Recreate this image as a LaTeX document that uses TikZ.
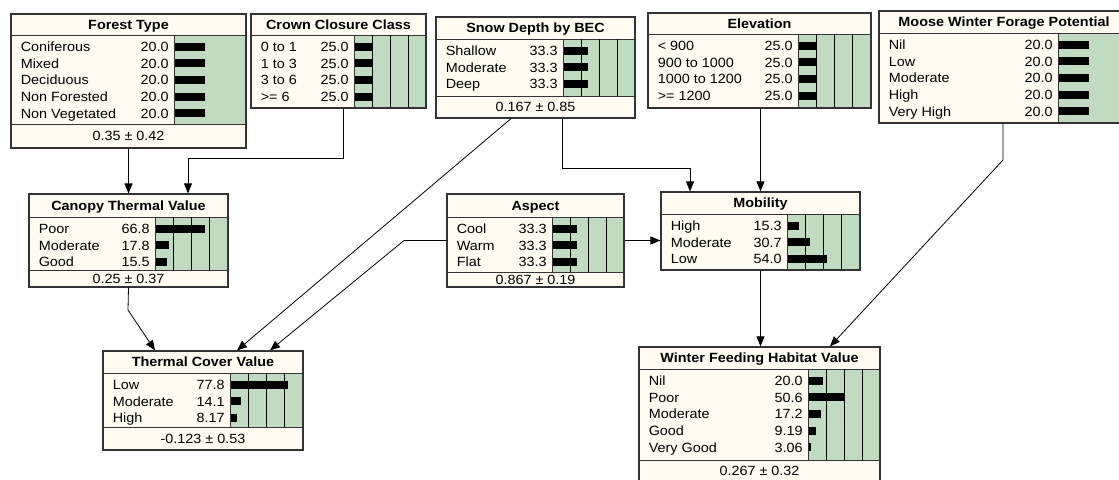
\documentclass[tikz,border=0pt]{standalone}
\usepackage{fontspec}
\setmainfont{Liberation Sans}[FakeStretch=1.08]
\usetikzlibrary{arrows.meta,fit,calc}
\definecolor{cream}{HTML}{FFFBF0}
\definecolor{pgreen}{HTML}{C0DCC0}
\definecolor{frameclr}{HTML}{333333}
\tikzset{
  bnframe/.style={draw=frameclr, line width=0.9pt, inner sep=0pt},
  bnsep/.style={draw=frameclr, line width=0.7pt},
  bntitle/.style={font=\fontsize{10}{12}\selectfont\bfseries, inner sep=0pt, anchor=base},
  bntext/.style={font=\fontsize{10}{12}\selectfont, inner sep=0pt},
  gridln/.style={draw=black, line width=0.5pt},
  barfill/.style={fill=black},
  arr/.style={draw=black, line width=0.6pt, -{Triangle[length=7.5pt,width=6pt]}},
}
% x1 y1 x2 y2 yt ys px title
\newcommand{\bnbase}[8]{%
  \fill[cream] (#1,#2) rectangle (#3,#4);
  \fill[pgreen] (#7,#5) rectangle (#3,#6);
  \draw[bnsep] (#1,#5) -- (#3,#5);
  \draw[bnsep] (#1,#6) -- (#3,#6);
  \draw[bnsep] (#7,#5) -- (#7,#6);
  \node[bntitle] at ({(#1+#3)/2},{(#2+#5)/2+4.8}) {#8};
}
% px x2 yt ys
\newcommand{\bngrid}[4]{%
  \foreach \k in {1,2,3}{
    \draw[gridln] ({#1+\k*(#2-#1)/4},#3) -- ({#1+\k*(#2-#1)/4},#4);
  }
}
% x1 yt px scale list
\newcommand{\bnstates}[5]{%
  \foreach \lab/\val/\pct [count=\i] in {#5}{
    \pgfmathsetmacro{\yc}{#2+11.5+16.7*(\i-1)}
    \node[bntext, anchor=base west] at ({#1+9.5},{\yc+4.8}) {\lab};
    \node[bntext, anchor=base east] at ({#3-5},{\yc+4.8}) {\val};
    \fill[barfill] ({#3+1},{\yc-4}) rectangle ({#3+1+#4*\pct},{\yc+4});
  }
}
% x1 x2 ys y2 text
\newcommand{\bnfoot}[5]{%
  \node[bntext, anchor=base] at ({(#1+#2)/2},{(#3+#4)/2+4.8}) {#5};
}
% name x1 y1 x2 y2
\newcommand{\bnframe}[5]{%
  \node[bnframe, fit={(#2,#3)(#4,#5)}] (#1) {};
}
\begin{document}
\begin{tikzpicture}[x=0.75pt,y=-0.75pt]
\useasboundingbox[fill=white] (0,0) rectangle (1119,479);

% Forest Type
\bnbase{11}{14}{246}{148}{35}{124}{174}{Forest Type}
\bnstates{11}{35}{174}{1.5}{Coniferous/20.0/20, Mixed/20.0/20, Deciduous/20.0/20, Non Forested/20.0/20, Non Vegetated/20.0/20}
\bnfoot{11}{246}{124}{148}{0.35 ± 0.42}
\bnframe{ft}{11}{14}{246}{148}

% Crown Closure Class
\bnbase{251}{14}{426}{108}{35}{108}{354}{Crown Closure Class}
\bngrid{354}{426}{35}{108}
\bnstates{251}{35}{354}{0.72}{0 to 1/25.0/25, 1 to 3/25.0/25, 3 to 6/25.0/25, >= 6/25.0/25}
\bnframe{ccc}{251}{14}{426}{108}

% Snow Depth by BEC
\bnbase{436}{17}{635}{118}{39}{96}{563}{Snow Depth by BEC}
\bngrid{563}{635}{39}{96}
\bnstates{436}{39}{563}{0.72}{Shallow/33.3/33.3, Moderate/33.3/33.3, Deep/33.3/33.3}
\bnfoot{436}{635}{96}{118}{0.167 ± 0.85}
\bnframe{sd}{436}{17}{635}{118}

% Elevation
\bnbase{648}{13}{871}{108}{34}{108}{798}{Elevation}
\bngrid{798}{871}{34}{108}
\bnstates{648}{34}{798}{0.73}{< 900/25.0/25, 900 to 1000/25.0/25, 1000 to 1200/25.0/25, >= 1200/25.0/25}
\bnframe{elv}{648}{13}{871}{108}

% Moose Winter Forage Potential
\bnbase{879}{11}{1129}{123}{33}{123}{1058}{Moose Winter Forage Potential}
\bnstates{879}{33}{1058}{1.5}{Nil/20.0/20, Low/20.0/20, Moderate/20.0/20, High/20.0/20, Very High/20.0/20}
\bnframe{mw}{879}{11}{1129}{123}

% Canopy Thermal Value
\bnbase{29}{194}{228}{287}{217}{270}{155}{Canopy Thermal Value}
\bngrid{155}{228}{217}{270}
\bnstates{29}{217}{155}{0.73}{Poor/66.8/66.8, Moderate/17.8/17.8, Good/15.5/15.5}
\bnfoot{29}{228}{270}{287}{0.25 ± 0.37}
\bnframe{ctv}{29}{194}{228}{287}

% Aspect
\bnbase{447}{194}{624}{287}{217}{272}{552}{Aspect}
\bngrid{552}{624}{217}{272}
\bnstates{447}{217}{552}{0.72}{Cool/33.3/33.3, Warm/33.3/33.3, Flat/33.3/33.3}
\bnfoot{447}{624}{272}{287}{0.867 ± 0.19}
\bnframe{asp}{447}{194}{624}{287}

% Mobility
\bnbase{661}{192}{860}{270}{214}{270}{787}{Mobility}
\bngrid{787}{860}{214}{270}
\bnstates{661}{214}{787}{0.73}{High/15.3/15.3, Moderate/30.7/30.7, Low/54.0/54.0}
\bnframe{mob}{661}{192}{860}{270}

% Thermal Cover Value
\bnbase{103}{351}{303}{450}{373}{427}{230}{Thermal Cover Value}
\bngrid{230}{303}{373}{427}
\bnstates{103}{373}{230}{0.73}{Low/77.8/77.8, Moderate/14.1/14.1, High/8.17/8.17}
\bnfoot{103}{303}{427}{450}{-0.123 ± 0.53}
\bnframe{tcv}{103}{351}{303}{450}

% Winter Feeding Habitat Value
\bnbase{639}{347}{880}{482}{369}{460}{808}{Winter Feeding Habitat Value}
\bngrid{808}{880}{369}{460}
\bnstates{639}{369}{808}{0.72}{Nil/20.0/20.0, Poor/50.6/50.6, Moderate/17.2/17.2, Good/9.19/9.19, Very Good/3.06/3.06}
\bnfoot{639}{880}{460}{482}{0.267 ± 0.32}
\bnframe{wf}{639}{347}{880}{482}

% bend points
\coordinate (c1) at (343,158);
\coordinate (c2) at (188,158);
\coordinate (s1) at (511,0);
\coordinate (t1) at (237,0);
\coordinate (a1) at (404,0);
\coordinate (t2) at (270,0);
\coordinate (k1) at (128,310);
\coordinate (t3) at (155,0);
\coordinate (m1) at (562,168);
\coordinate (m2) at (690,168);
\coordinate (w1) at (1003,160);
\coordinate (w2) at (830,0);

% connectors
\draw[arr] (ft.south) -- (ft.south |- ctv.north);
\draw[arr] (c1 |- ccc.south) -- (c1) -- (c2) -- (c2 |- ctv.north);
\draw[arr] (s1 |- sd.south) -- (t1 |- tcv.north);
\draw[arr] (asp.west) -- (asp.west -| a1) -- (t2 |- tcv.north);
\draw[arr] (ctv.south) -- (k1) -- (t3 |- tcv.north);
\draw[arr] (m1 |- sd.south) -- (m1) -- (m2) -- (m2 |- mob.north);
\draw[arr] (mob.north |- elv.south) -- (mob.north);
\draw[arr] (asp.east) -- (asp.east -| mob.west);
\draw[arr] (mob.south) -- (mob.south |- wf.north);
\draw[arr] (w1 |- mw.south) -- (w1) -- (w2 |- wf.north);
\end{tikzpicture}
\end{document}
